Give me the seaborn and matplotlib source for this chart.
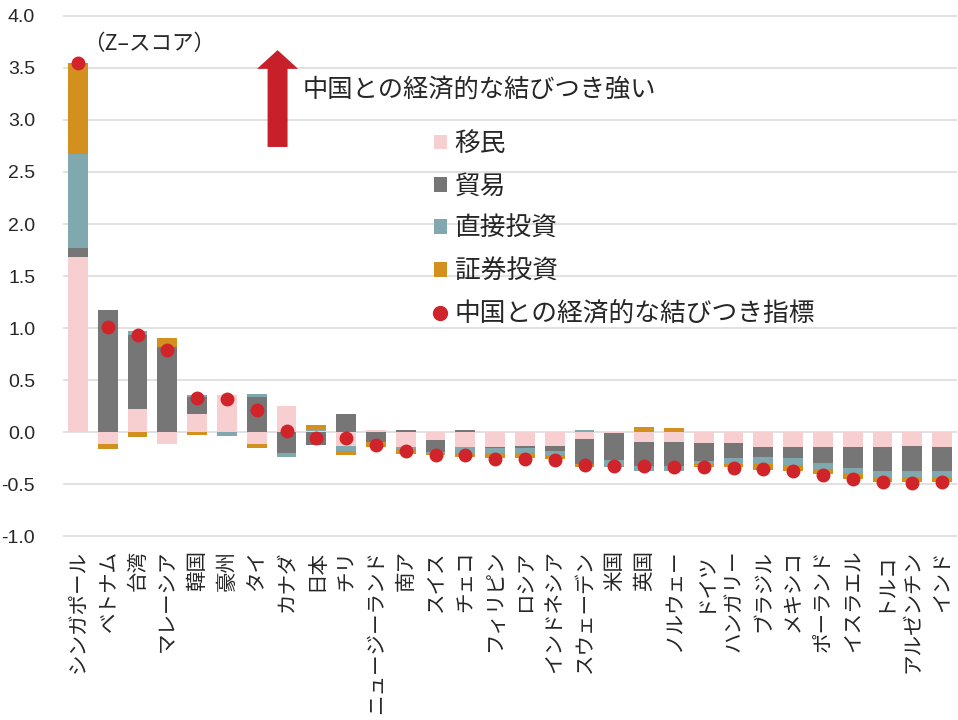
import numpy as np
import pandas as pd
import matplotlib
matplotlib.use("Agg")
import matplotlib.pyplot as plt
import seaborn as sns
from matplotlib.patches import Patch, FancyArrow
from matplotlib.lines import Line2D

# ---------------- data ----------------
countries = ["シンガポール", "ベトナム", "台湾", "マレーシア", "韓国", "豪州", "タイ",
             "カナダ", "日本", "チリ", "ニュージーランド", "南ア", "スイス", "チェコ",
             "フィリピン", "ロシア", "インドネシア", "スウェーデン", "米国", "英国",
             "ノルウェー", "ドイツ", "ハンガリー", "ブラジル", "メキシコ", "ポーランド",
             "イスラエル", "トルコ", "アルゼンチン", "インド"]

migration = [1.68, -0.11, 0.22, -0.115, 0.18, 0.36, -0.11, 0.25, 0.01, -0.13,
             0.02, -0.14, -0.075, -0.14, -0.14, -0.135, -0.13, -0.06, -0.01, -0.09,
             -0.09, -0.105, -0.10, -0.145, -0.145, -0.145, -0.14, -0.14, -0.13, -0.145]
trade = [0.09, 1.17, 0.71, 0.82, 0.16, 0.0, 0.335, -0.195, -0.12, 0.18,
         -0.09, 0.02, -0.11, 0.02, -0.01, -0.015, -0.045, -0.24, -0.26, -0.23,
         -0.23, -0.175, -0.15, -0.095, -0.105, -0.145, -0.205, -0.23, -0.245, -0.225]
fdi = [0.90, 0.0, 0.04, 0.0, 0.02, -0.035, 0.03, -0.04, 0.02, -0.045,
       0.0, -0.025, -0.015, -0.055, -0.05, -0.05, -0.042, 0.02, -0.065, -0.055,
       -0.055, -0.02, -0.05, -0.065, -0.06, -0.065, -0.05, -0.06, -0.055, -0.055]
portfolio = [0.88, -0.05, -0.045, 0.09, -0.025, 0.0, -0.045, 0.0, 0.045, -0.045,
             -0.05, -0.04, -0.02, -0.04, -0.05, -0.05, -0.04, -0.035, 0.0, 0.05,
             0.04, -0.035, -0.035, -0.055, -0.06, -0.045, -0.055, -0.05, -0.05, -0.05]
index_total = [3.55, 1.01, 0.93, 0.79, 0.33, 0.32, 0.21, 0.01, -0.05, -0.05,
               -0.12, -0.18, -0.22, -0.22, -0.26, -0.26, -0.265, -0.31, -0.32, -0.32,
               -0.33, -0.335, -0.34, -0.355, -0.37, -0.41, -0.45, -0.48, -0.49, -0.48]

series_labels = ["移民", "貿易", "直接投資", "証券投資"]
dot_label = "中国との経済的な結びつき指標"
y_ticks = [-1.0, -0.5, 0.0, 0.5, 1.0, 1.5, 2.0, 2.5, 3.0, 3.5, 4.0]

# ---------------- style ----------------
colors = ["#F8CFD1", "#767676", "#7FA9AF", "#D4901F"]
red = "#D0232A"

sns.set_style("white")
plt.rcParams["font.family"] = ["Noto Sans CJK JP", "DejaVu Sans"]
plt.rcParams["axes.unicode_minus"] = False

fig = plt.figure(figsize=(9.58, 7.2), dpi=100)
ax = fig.add_axes([63 / 958, 1 - 537.5 / 720, 894 / 958, (537.5 - 14.7) / 720])

vals = np.array([migration, trade, fdi, portfolio])
pos_cum = np.clip(vals, 0, None).cumsum(axis=0)
neg_cum = np.clip(vals, None, 0).cumsum(axis=0)

for k in range(3, -1, -1):
    for cum in (pos_cum[k], neg_cum[k]):
        sns.barplot(x=countries, y=cum, order=countries, color=colors[k],
                    width=0.66, saturation=1, linewidth=0, errorbar=None,
                    ax=ax, zorder=2)

sns.stripplot(x=countries, y=index_total, order=countries, jitter=False,
              color=red, size=10, linewidth=0, ax=ax, zorder=5)

ax.set_xlim(-0.5, len(countries) - 0.5)
ax.set_ylim(-1.01, 4.01)
ax.set_yticks(y_ticks)
ax.set_yticklabels([f"{v:.1f}" for v in y_ticks], fontfamily="Liberation Sans", fontsize=14)
ax.grid(axis="y", color="#D9D9D9", lw=1.1)
ax.set_axisbelow(True)
for s in ax.spines.values():
    s.set_visible(False)
ax.tick_params(axis="y", length=0, pad=20)
ax.tick_params(axis="x", length=0, pad=9)
ax.set_xticks(range(len(countries)))
ax.set_xticklabels(countries, rotation=90, fontsize=14.8)
ax.set_xlabel("")
ax.set_ylabel("")

# arrow
ax.add_patch(FancyArrow(6.70, 2.74, 0, 0.93, width=0.67, head_width=1.38,
                        head_length=0.18, length_includes_head=True,
                        color="#C8202A", lw=0, zorder=3))

fig.text(303 / 958, 1 - 90 / 720, "中国との経済的な結びつき強い", fontsize=18.2,
         va="center", ha="left")
fig.text(83 / 958, 1 - 44 / 720, "（Z–スコア）", fontsize=15.5, va="center", ha="left")

handles = [Patch(facecolor=c, edgecolor="none", label=l) for c, l in zip(colors, series_labels)]
handles.append(Line2D([], [], marker="o", ls="", color=red, markersize=10, label=dot_label))
ax.legend(handles=handles, loc="upper left", bbox_to_anchor=(434 / 958, 1 - 131 / 720),
          bbox_transform=fig.transFigure, frameon=False, fontsize=18.5,
          handlelength=0.5, handleheight=0.5, handletextpad=0.3,
          labelspacing=0.64, borderpad=0, borderaxespad=0)

fig.savefig("out.png", dpi=100)
